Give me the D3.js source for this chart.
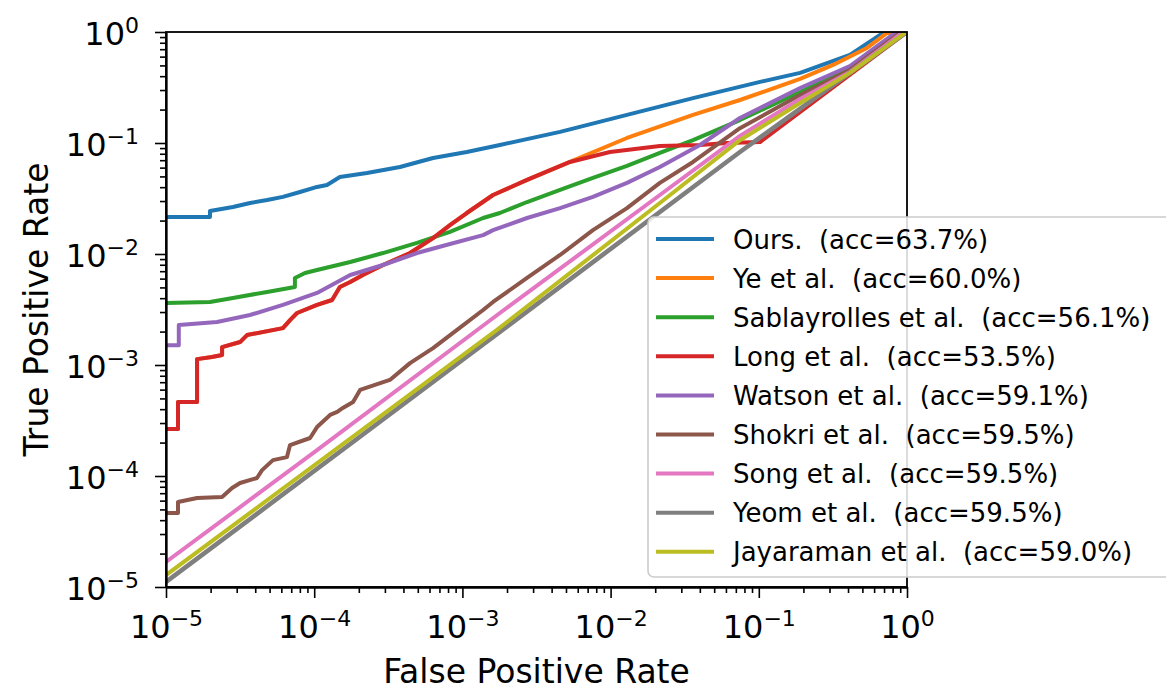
<!DOCTYPE html>
<html>
<head>
<meta charset="utf-8">
<script src="https://cdn.jsdelivr.net/npm/d3@7"></script>
<style>
  body { margin: 0; background: #fff; }
  text { font-family: 'DejaVu Sans', sans-serif; fill: #000; }
</style>
</head>
<body>
<div id="chart"></div>
<script>
// ROC curves, values (fpr, tpr)
const oursFPR = [1e-5, 1.98e-5, 1.98e-5, 2.83e-5, 3.69e-5, 4.81e-5, 6.15e-5, 8.02e-5, 1.045e-4, 1.22e-4, 1.49e-4, 2.27e-4, 3.79e-4, 6.34e-4, 1.07e-3, 1.79e-3, 4.56e-3, 1.29e-2, 3.6e-2, 0.102, 0.19, 0.412, 0.689, 1];
const oursTPR = [2.15e-2, 2.15e-2, 2.44e-2, 2.65e-2, 2.88e-2, 3.06e-2, 3.27e-2, 3.62e-2, 4.02e-2, 4.19e-2, 4.94e-2, 5.37e-2, 6.08e-2, 7.33e-2, 8.3e-2, 9.6e-2, 0.126, 0.179, 0.254, 0.355, 0.428, 0.621, 0.98, 1];

const yeFPR = [1e-5, 1.205e-5, 1.205e-5, 1.62e-5, 1.62e-5, 2.04e-5, 2.39e-5, 2.39e-5, 3.16e-5, 3.52e-5, 6.15e-5, 6.87e-5, 7.66e-5, 1.045e-4, 1.32e-4, 1.49e-4, 1.75e-4, 2.13e-4, 2.91e-4, 4.43e-4, 6.34e-4, 8.24e-4, 1.07e-3, 1.61e-3, 2.73e-3, 5.32e-3, 1.29e-2, 3.6e-2, 7.46e-2, 0.19, 0.317, 0.537, 0.733, 1];
const yeTPR = [2.65e-4, 2.65e-4, 4.65e-4, 4.65e-4, 1.13e-3, 1.18e-3, 1.23e-3, 1.45e-3, 1.61e-3, 1.86e-3, 2.15e-3, 2.54e-3, 2.94e-3, 3.48e-3, 3.85e-3, 5.05e-3, 5.6e-3, 6.47e-3, 7.96e-3, 1.02e-2, 1.39e-2, 1.82e-2, 2.34e-2, 3.4e-2, 4.65e-2, 6.75e-2, 0.111, 0.179, 0.244, 0.378, 0.505, 0.718, 0.98, 1];

const sabFPR = [1e-5, 1.98e-5, 2.83e-5, 4.81e-5, 7.41e-5, 7.41e-5, 8.67e-5, 1.045e-4, 1.75e-4, 2.91e-4, 4.94e-4, 8.24e-4, 1.38e-3, 1.79e-3, 2.73e-3, 4.56e-3, 7.6e-3, 1.29e-2, 2.15e-2, 3.6e-2, 7.46e-2, 0.19, 0.412, 0.857, 1];
const sabTPR = [3.62e-3, 3.7e-3, 4.02e-3, 4.55e-3, 5.05e-3, 6.08e-3, 6.75e-3, 7.18e-3, 8.47e-3, 1.02e-2, 1.26e-2, 1.58e-2, 2.11e-2, 2.34e-2, 2.94e-2, 3.78e-2, 4.84e-2, 6.21e-2, 8.13e-2, 0.106, 0.161, 0.288, 0.474, 0.98, 1];

const longFPR = [1e-5, 1.205e-5, 1.205e-5, 1.62e-5, 1.62e-5, 2.04e-5, 2.39e-5, 2.39e-5, 3.16e-5, 3.52e-5, 6.15e-5, 6.87e-5, 7.66e-5, 1.045e-4, 1.32e-4, 1.49e-4, 1.75e-4, 2.13e-4, 2.91e-4, 4.43e-4, 6.34e-4, 8.24e-4, 1.07e-3, 1.61e-3, 2.73e-3, 5.32e-3, 9.9e-3, 2.15e-2, 4.01e-2, 6.1e-2, 0.102, 1];
const longTPR = [2.65e-4, 2.65e-4, 4.65e-4, 4.65e-4, 1.13e-3, 1.18e-3, 1.23e-3, 1.45e-3, 1.61e-3, 1.86e-3, 2.15e-3, 2.54e-3, 2.94e-3, 3.48e-3, 3.85e-3, 5.05e-3, 5.6e-3, 6.47e-3, 7.96e-3, 1.02e-2, 1.39e-2, 1.82e-2, 2.34e-2, 3.4e-2, 4.65e-2, 6.75e-2, 8.3e-2, 9.4e-2, 9.6e-2, 0.1, 0.102, 1];

const watsonFPR = [1e-5, 1.22e-5, 1.22e-5, 2.21e-5, 3.69e-5, 6.15e-5, 1.045e-4, 1.75e-4, 2.91e-4, 4.94e-4, 8.24e-4, 1.38e-3, 1.61e-3, 2.73e-3, 4.56e-3, 7.6e-3, 1.29e-2, 2.15e-2, 4.01e-2, 7.46e-2, 0.19, 0.412, 0.83, 1];
const watsonTPR = [1.51e-3, 1.51e-3, 2.29e-3, 2.44e-3, 2.82e-3, 3.48e-3, 4.46e-3, 6.47e-3, 7.96e-3, 1.02e-2, 1.23e-2, 1.48e-2, 1.64e-2, 2.11e-2, 2.59e-2, 3.27e-2, 4.37e-2, 6.08e-2, 9.6e-2, 0.168, 0.313, 0.494, 0.98, 1];

const shokriFPR = [1e-5, 1.205e-5, 1.205e-5, 1.62e-5, 2.39e-5, 2.79e-5, 3.16e-5, 4.11e-5, 4.45e-5, 5.27e-5, 6.55e-5, 6.87e-5, 9.38e-5, 1.045e-4, 1.28e-4, 1.43e-4, 1.56e-4, 1.83e-4, 2.04e-4, 3.24e-4, 4.43e-4, 6.34e-4, 9.2e-4, 1.38e-3, 1.61e-3, 2.73e-3, 4.56e-3, 7.6e-3, 1.29e-2, 2.15e-2, 3.6e-2, 7.46e-2, 0.19, 0.412, 0.897, 1];
const shokriTPR = [4.65e-5, 4.65e-5, 5.83e-5, 6.34e-5, 6.47e-5, 7.8e-5, 8.65e-5, 9.6e-5, 1.13e-4, 1.39e-4, 1.48e-4, 1.9e-4, 2.2e-4, 2.76e-4, 3.55e-4, 3.78e-4, 4.1e-4, 4.65e-4, 5.96e-4, 7.33e-4, 1.04e-3, 1.42e-3, 2.07e-3, 3.13e-3, 3.7e-3, 6.08e-3, 9.8e-3, 1.64e-2, 2.59e-2, 4.37e-2, 6.75e-2, 0.136, 0.27, 0.455, 0.98, 1];

const songFPR = [1e-5, 1.045e-4, 1.79e-3, 2.15e-2, 7.46e-2, 0.19, 0.412, 0.925, 1];
const songTPR = [1.68e-5, 1.71e-4, 2.94e-3, 3.4e-2, 0.116, 0.249, 0.437, 0.98, 1];

const yeomFPR = [1e-5, 1e-3, 7.46e-2, 1];
const yeomTPR = [1.11e-5, 1.11e-3, 8.3e-2, 1];

const jayaFPR = [1e-5, 1.71e-3, 2.15e-2, 7.46e-2, 0.19, 0.412, 0.97, 1];
const jayaTPR = [1.28e-5, 2.07e-3, 2.88e-2, 0.106, 0.229, 0.428, 0.98, 1];

const seriesNames = ["Ours.", "Ye et al.", "Sablayrolles et al.", "Long et al.", "Watson et al.", "Shokri et al.", "Song et al.", "Yeom et al.", "Jayaraman et al."];
const seriesAcc = ["63.7%", "60.0%", "56.1%", "53.5%", "59.1%", "59.5%", "59.5%", "59.5%", "59.0%"];
const seriesFPR = [oursFPR, yeFPR, sabFPR, longFPR, watsonFPR, shokriFPR, songFPR, yeomFPR, jayaFPR];
const seriesTPR = [oursTPR, yeTPR, sabTPR, longTPR, watsonTPR, shokriTPR, songTPR, yeomTPR, jayaTPR];
const colors = ["#1f77b4", "#ff7f0e", "#2ca02c", "#d62728", "#9467bd", "#8c564b", "#e377c2", "#7f7f7f", "#bcbd22"];

const majorTicks = [1e-5, 1e-4, 1e-3, 1e-2, 1e-1, 1];
const tickExp = ["\u22125", "\u22124", "\u22123", "\u22122", "\u22121", "0"];

const W = 1166, H = 691;
const margin = {top: 32, right: 259, bottom: 104, left: 166};
const width = W - margin.left - margin.right;
const height = H - margin.top - margin.bottom;

const svg = d3.select("#chart").append("svg")
    .attr("width", W)
    .attr("height", H);

const g = svg.append("g")
    .attr("transform", "translate(" + margin.left + "," + margin.top + ")");

const x = d3.scaleLog().domain([1e-5, 1]).range([0, width]);
const y = d3.scaleLog().domain([1e-5, 1]).range([height, 0]);

g.append("clipPath").attr("id", "plot-clip")
    .append("rect").attr("width", width).attr("height", height);

const line = d3.line()
    .x(d => x(d[0]))
    .y(d => y(d[1]));

const curves = g.append("g").attr("clip-path", "url(#plot-clip)");
seriesNames.forEach((name, i) => {
    const pts = seriesFPR[i].map((f, j) => [f, seriesTPR[i][j]]);
    curves.append("path")
        .datum(pts)
        .attr("d", line)
        .attr("fill", "none")
        .attr("stroke", colors[i])
        .attr("stroke-width", name === "Yeom et al." ? 4.6 : 4)
        .attr("stroke-linejoin", "round");
});

// minor ticks (2..9 per decade)
const minor = x.ticks().filter(v => !majorTicks.some(m => Math.abs(m - v) / m < 1e-6));

function styleAxis(sel) {
    sel.select(".domain").attr("stroke", "#000").attr("stroke-width", 1.8);
    sel.selectAll(".tick line").attr("stroke", "#000").attr("stroke-width", 1.6);
}

g.append("g")
    .attr("transform", "translate(0," + height + ")")
    .call(d3.axisBottom(x).tickValues(minor).tickSize(6).tickSizeOuter(0).tickFormat(""))
    .call(styleAxis);
g.append("g")
    .call(d3.axisLeft(y).tickValues(minor).tickSize(6).tickSizeOuter(0).tickFormat(""))
    .call(styleAxis);

const xAxis = g.append("g")
    .attr("transform", "translate(0," + height + ")")
    .call(d3.axisBottom(x).tickValues(majorTicks).tickSize(11).tickSizeOuter(0).tickFormat(""))
    .call(styleAxis);
const yAxis = g.append("g")
    .call(d3.axisLeft(y).tickValues(majorTicks).tickSize(11).tickSizeOuter(0).tickFormat(""))
    .call(styleAxis);

function tickLabel(sel, anchor, tx, ty) {
    sel.each(function(d, i) {
        const t = d3.select(this).append("text")
            .attr("x", tx).attr("y", ty)
            .attr("text-anchor", anchor)
            .attr("font-size", 32)
            .attr("fill", "#000");
        t.append("tspan").text("10");
        t.append("tspan").attr("font-size", 22).attr("dy", -12).text(tickExp[i]);
    });
}
xAxis.selectAll(".tick").call(tickLabel, "middle", 0, 51);
yAxis.selectAll(".tick").call(tickLabel, "end", -27, 12);

// top and right spines
g.append("rect")
    .attr("width", width).attr("height", height)
    .attr("fill", "none").attr("stroke", "#000").attr("stroke-width", 1.8);

g.append("text")
    .attr("x", width / 2).attr("y", height + 96)
    .attr("text-anchor", "middle")
    .attr("font-size", 33)
    .text("False Positive Rate");

g.append("text")
    .attr("transform", "translate(" + (48 - margin.left) + "," + (height / 2) + ") rotate(-90)")
    .attr("text-anchor", "middle")
    .attr("font-size", 33)
    .text("True Positive Rate");

// legend
const legend = svg.append("g").attr("transform", "translate(648,217)");
legend.append("rect")
    .attr("width", 540).attr("height", 360)
    .attr("rx", 6)
    .attr("fill", "#fff").attr("fill-opacity", 0.85)
    .attr("stroke", "#cccccc").attr("stroke-width", 1.6);

const rows = legend.selectAll(".row")
    .data(seriesNames)
    .enter().append("g")
    .attr("class", "row")
    .attr("transform", (d, i) => "translate(0," + (22 + i * 39.1) + ")");
rows.append("line")
    .attr("x1", 8).attr("x2", 66)
    .attr("stroke", (d, i) => colors[i])
    .attr("stroke-width", 4);
rows.append("text")
    .attr("x", 85).attr("y", 9.5)
    .attr("font-size", 26)
    .attr("xml:space", "preserve")
    .style("white-space", "pre")
    .text((d, i) => d + "  (acc=" + seriesAcc[i] + ")");
</script>
</body>
</html>
